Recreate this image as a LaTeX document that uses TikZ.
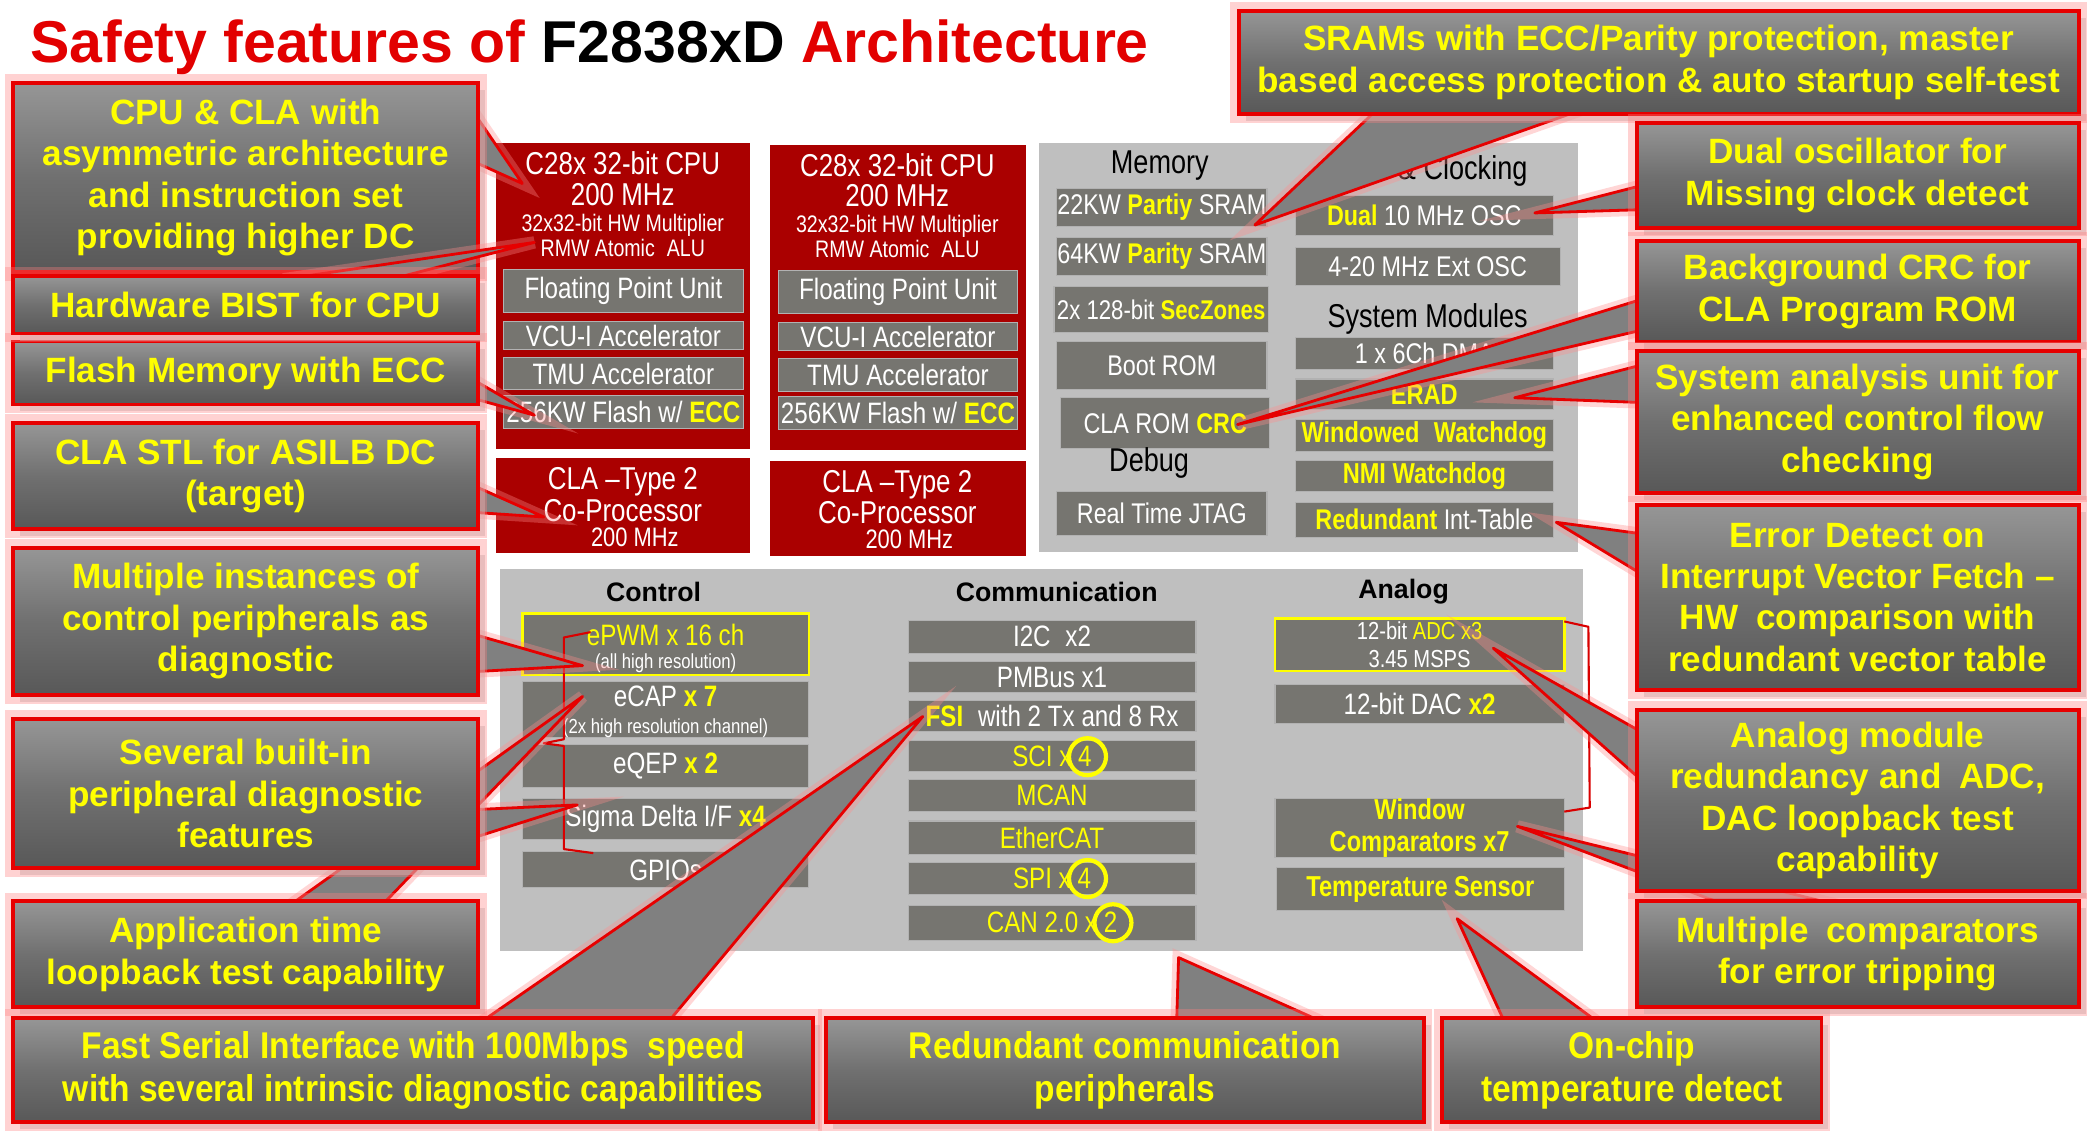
\documentclass[tikz,border=0pt]{standalone}
\usepackage{fontspec}
\setmainfont{Liberation Sans}
\newfontfamily\narrowfont[FakeStretch=0.82]{Liberation Sans}
\newfontfamily\condfont[FakeStretch=0.9]{Liberation Sans}
\usetikzlibrary{calc}

\definecolor{cpured}{RGB}{170,0,0}
\definecolor{boxgray}{RGB}{118,117,112}
\definecolor{panelgray}{RGB}{191,191,191}
\definecolor{calltop}{RGB}{150,150,150}
\definecolor{callmid}{RGB}{112,112,112}
\definecolor{callbot}{RGB}{88,88,88}
\definecolor{callred}{RGB}{230,0,0}
\definecolor{ptrgray}{RGB}{128,128,128}
\definecolor{hiyellow}{RGB}{255,255,0}
\definecolor{titlered}{RGB}{226,0,0}

\pgfdeclarelayer{chip}
\pgfdeclarelayer{ptr}
\pgfdeclarelayer{ptrtop}
\pgfdeclarelayer{boxtop}
\pgfsetlayers{chip,ptr,main,ptrtop,boxtop}

% box from its pixel corners (x1,y1) (x2,y2)
\newcommand{\boxnode}[7]{%
  \node[#1, minimum width={(#5-#3)*0.01339cm}, minimum height={(#6-#4)*0.01339cm}]
    (#2) at ({(#3+#5)/2},{(#4+#6)/2}) {#7};}
% wedge pointer: base point, base point, tip
\newcommand{\callptr}[3]{\filldraw[pointy] (#1) -- (#3) -- (#2) -- cycle;}
\newcommand{\hl}[1]{\textcolor{hiyellow}{\bfseries #1}}

\tikzset{
  redblk/.style={fill=cpured, inner sep=0pt},
  panel/.style={fill=panelgray, inner sep=0pt},
  inbox/.style={fill=boxgray, draw=black!30, line width=0.3pt, text=white, align=center,
    inner sep=0pt, font=\narrowfont\fontsize{8.4}{9}\selectfont},
  membox/.style={inbox, font=\narrowfont\fontsize{8.1}{9}\selectfont},
  hibox/.style={inbox, draw=hiyellow, line width=0.8pt},
  boldbox/.style={inbox, text=hiyellow, font=\narrowfont\bfseries\fontsize{8.2}{9.1}\selectfont},
  cputxt/.style={text=white, inner sep=0pt, font=\narrowfont\fontsize{9}{10}\selectfont},
  cpusmall/.style={cputxt, font=\narrowfont\fontsize{6.8}{8}\selectfont},
  ptxt/.style={text=white, inner sep=0pt, font=\narrowfont\fontsize{8.4}{9}\selectfont},
  psmall/.style={text=white, inner sep=0pt, font=\narrowfont\fontsize{5.8}{7}\selectfont},
  grptitle/.style={inner sep=0pt, font=\narrowfont\fontsize{9.4}{10}\selectfont},
  sectitle/.style={inner sep=0pt, font=\bfseries\fontsize{7.6}{8}\selectfont},
  bracket/.style={draw=red!85!black, line width=0.6pt, line join=round},
  ring/.style={circle, draw=hiyellow, line width=1.2pt, minimum size=0.37cm, inner sep=0pt},
  notebox/.style={draw=callred, line width=1.1pt, top color=calltop, bottom color=callbot,
    middle color=callmid, text=hiyellow, align=center, inner sep=0pt,
    font=\bfseries\fontsize{10}{11.8}\selectfont,
    preaction={fill=black!25, opacity=0.5, transform canvas={shift={(2pt,-2pt)}}},
    preaction={draw=red!50, line width=5pt, opacity=0.35}},
  bottomnote/.style={notebox, font=\condfont\bfseries\fontsize{10.6}{12.3}\selectfont},
  pointy/.style={fill=ptrgray, draw=callred, line width=0.8pt, line join=round,
    preaction={draw=red!45, line width=3.5pt, opacity=0.35}}
}

\begin{document}
\begin{tikzpicture}[x=0.01339cm, y=-0.01339cm]
\useasboundingbox (0,0) rectangle (1568,850);

\begin{pgfonlayer}{chip}
\fill[white] (0,0) rectangle (1568,850);

% title
\node[anchor=base west, inner sep=0pt, text=titlered, font=\bfseries\fontsize{16.8}{20}\selectfont]
  (title) at (22,47) {Safety features of \textcolor{black}{F2838xD} Architecture};

% CPU 1
\boxnode{redblk}{cpu1}{370}{107}{560}{335}{}
\node[cputxt] (cpu1name) at (465,122) {C28x 32-bit CPU};
\node[cputxt] (cpu1clk) at (465,145) {200 MHz};
\node[cpusmall] (cpu1mul) at (465,168) {32x32-bit HW Multiplier};
\node[cpusmall] (cpu1alu) at (465,185) {RMW Atomic\enspace ALU};
\boxnode{inbox}{fpu1}{376}{201}{555}{233}{Floating Point Unit}
\boxnode{inbox}{vcu1}{376}{240}{555}{261}{VCU-I Accelerator}
\boxnode{inbox}{tmu1}{376}{267}{555}{291}{TMU Accelerator}
\boxnode{inbox}{flash1}{376}{295}{555}{320}{256KW Flash w/ \hl{ECC}}
\boxnode{redblk}{cla1}{370}{342}{560}{413}{}
\node[cputxt] (cla1name) at (465,360) {CLA \textendash Type 2};
\node[cputxt] (cla1kind) at (465,381) {Co-Processor};
\node[cpusmall, font=\narrowfont\fontsize{7.6}{8}\selectfont] (cla1clk) at (474,401) {200 MHz};

% CPU 2
\boxnode{redblk}{cpu2}{575}{108}{766}{336}{}
\node[cputxt] (cpu2name) at (670,123) {C28x 32-bit CPU};
\node[cputxt] (cpu2clk) at (670,146) {200 MHz};
\node[cpusmall] (cpu2mul) at (670,169) {32x32-bit HW Multiplier};
\node[cpusmall] (cpu2alu) at (670,186) {RMW Atomic\enspace ALU};
\boxnode{inbox}{fpu2}{581}{202}{760}{234}{Floating Point Unit}
\boxnode{inbox}{vcu2}{581}{241}{760}{262}{VCU-I Accelerator}
\boxnode{inbox}{tmu2}{581}{268}{760}{292}{TMU Accelerator}
\boxnode{inbox}{flash2}{581}{296}{760}{321}{256KW Flash w/ \hl{ECC}}
\boxnode{redblk}{cla2}{575}{344}{766}{415}{}
\node[cputxt] (cla2name) at (670,362) {CLA \textendash Type 2};
\node[cputxt] (cla2kind) at (670,383) {Co-Processor};
\node[cpusmall, font=\narrowfont\fontsize{7.6}{8}\selectfont] (cla2clk) at (679,403) {200 MHz};

% memory, clocking, system modules
\boxnode{panel}{sysblk}{776}{107}{1178}{412}{}
\node[grptitle] (memtitle) at (866,124) {Memory};
\boxnode{membox}{sram22}{789}{141}{946}{169}{22KW \hl{Partiy} SRAM}
\boxnode{membox}{sram64}{789}{177}{946}{206}{64KW \hl{Parity} SRAM}
\boxnode{membox, font=\narrowfont\fontsize{7.7}{9}\selectfont}{seczone}{787}{214}{947}{248}{2x 128-bit \hl{SecZones}}
\boxnode{membox}{bootrom}{789}{255}{946}{291}{Boot ROM}
\boxnode{membox}{clarom}{792}{297}{948}{335}{CLA ROM \hl{CRC}}
\node[grptitle] (dbgtitle) at (858,346) {Debug};
\boxnode{membox}{jtag}{789}{367}{946}{400}{Real Time JTAG}
\node[grptitle, anchor=east] (clktitle) at (1141,128) {\& Clocking};
\boxnode{membox}{osc}{967}{146}{1160}{176}{\hl{Dual} 10 MHz OSC}
\boxnode{membox}{extosc}{967}{185}{1165}{213}{4-20 MHz Ext OSC}
\node[grptitle] (systitle) at (1066,238) {System Modules};
\boxnode{membox}{dma}{967}{252}{1160}{276}{1 x 6Ch DMA}
\boxnode{boldbox}{erad}{967}{283}{1160}{306}{ERAD}
\boxnode{boldbox}{wdog}{967}{313}{1160}{337}{Windowed\enspace Watchdog}
\boxnode{boldbox}{nmi}{967}{344}{1160}{367}{NMI Watchdog}
\boxnode{membox}{inttab}{967}{375}{1160}{401}{\hl{Redundant} Int-Table}

% peripherals
\boxnode{panel}{periph}{373}{425}{1182}{710}{}
\node[sectitle] (ctrltitle) at (488,442) {Control};
\boxnode{hibox}{pwm}{390}{458}{604}{504}{}
\node[ptxt, text=hiyellow] (pwmtxt) at (497,474) {ePWM x 16 ch};
\node[psmall] (pwmnote) at (497,495) {(all high resolution)};
\boxnode{inbox}{ecap}{390}{509}{604}{551}{}
\node[ptxt] (ecaptxt) at (497,520) {eCAP \hl{x 7}};
\node[psmall] (ecapnote) at (497,544) {(2x high resolution channel)};
\boxnode{inbox}{eqep}{390}{556}{604}{588}{eQEP \hl{x 2}}
\boxnode{inbox}{sdfm}{390}{596}{604}{627}{Sigma Delta I/F \hl{x4}}
\boxnode{inbox}{gpio}{390}{636}{604}{663}{GPIOs}
\draw[bracket] (441,472) -- (421,476) -- (421,552) -- (406,555) -- (421,557) -- (421,634) -- (443,637);

\node[sectitle] (commtitle) at (789,442) {Communication};
\boxnode{inbox}{i2c}{678}{463}{893}{488}{I2C\enspace x2}
\boxnode{inbox}{pmbus}{678}{494}{893}{517}{PMBus x1}
\boxnode{inbox}{fsi}{678}{523}{893}{546}{\hl{FSI}\enspace with 2 Tx and 8 Rx}
\boxnode{inbox, text=hiyellow}{sci}{678}{553}{893}{576}{SCI x 4}
\boxnode{inbox, text=hiyellow}{mcan}{678}{582}{893}{606}{MCAN}
\boxnode{inbox, text=hiyellow}{ecat}{678}{613}{893}{638}{EtherCAT}
\boxnode{inbox, text=hiyellow}{spi}{678}{644}{893}{668}{SPI x 4}
\boxnode{inbox, text=hiyellow}{can}{678}{676}{893}{702}{CAN 2.0 x 2}
\node[ring] (sciring) at (812,565) {};
\node[ring] (spiring) at (812,656) {};
\node[ring] (canring) at (831,689) {};

\node[sectitle] (anatitle) at (1048,442) {Analog};
\boxnode{hibox, font=\narrowfont\fontsize{7}{8}\selectfont}{adc}{952}{462}{1168}{501}{12-bit \textcolor{hiyellow}{ADC x3}\\3.45 MSPS}
\boxnode{inbox}{dac}{952}{511}{1168}{540}{12-bit DAC \hl{x2}}
\boxnode{boldbox}{wincmp}{952}{597}{1168}{640}{Window\\Comparators x7}
\boxnode{boldbox}{tsens}{953}{648}{1168}{680}{Temperature Sensor}
\draw[bracket] (1168,464) -- (1186,468) -- (1187,603) -- (1168,606);

% pointer targets
\coordinate (tCpu) at (390,137);
\coordinate (tAlu) at (399,181);
\coordinate (tFlash) at (399,310);
\coordinate (tCla) at (406,386);
\coordinate (tPwm) at (435,497);
\coordinate (tCap) at (435,520);
\coordinate (tSdf) at (431,601);
\coordinate (tFsi) at (689,535);
\coordinate (tComm) at (880,715);
\coordinate (tTemp) at (1088,686);
\coordinate (tSram) at (937,168);
\coordinate (tOsc) at (1146,159);
\coordinate (tCrc) at (924,317);
\coordinate (tErad) at (1131,297);
\coordinate (tInt) at (1162,390);
\coordinate (tAdc) at (1115,484);
\coordinate (tWin) at (1133,617);
\end{pgfonlayer}

% left callouts
\boxnode{notebox}{L1}{10}{62}{357}{203}{CPU \& CLA with\\asymmetric architecture\\and instruction set\\providing higher DC}
\boxnode{notebox}{L3}{10}{255}{357}{302}{Flash Memory with ECC}
\boxnode{notebox}{L4}{10}{316}{357}{395}{CLA STL for ASILB DC\\(target)}
\boxnode{notebox}{L5}{10}{409}{357}{519}{Multiple instances of\\control peripherals as\\diagnostic}
\boxnode{notebox}{L6}{10}{537}{357}{648}{Several built-in\\peripheral diagnostic\\features}
\boxnode{notebox}{L7}{10}{673}{357}{752}{Application time\\loopback test capability}

% bottom callouts
\boxnode{bottomnote}{L8}{10}{760}{607}{838}{Fast Serial Interface with 100Mbps\enspace speed\\with several intrinsic diagnostic capabilities}
\boxnode{bottomnote}{B2}{617}{760}{1063}{838}{Redundant communication\\peripherals}
\boxnode{bottomnote}{B3}{1077}{760}{1360}{838}{On-chip\\temperature detect}

% right callouts
\boxnode{notebox}{R1}{925}{8}{1552}{85}{SRAMs with ECC/Parity protection, master\\based access protection \& auto startup self-test}
\boxnode{notebox}{R2}{1222}{92}{1552}{170}{Dual oscillator for\\Missing clock detect}
\boxnode{notebox}{R3}{1222}{180}{1552}{255}{Background CRC for\\CLA Program ROM}
\boxnode{notebox}{R4}{1222}{262}{1552}{368}{System analysis unit for\\enhanced control flow\\checking}
\boxnode{notebox}{R5}{1222}{377}{1552}{515}{Error Detect on\\Interrupt Vector Fetch \textendash\\HW\enspace comparison with\\redundant vector table}
\boxnode{notebox}{R6}{1222}{530}{1552}{665}{Analog module\\redundancy and\enspace ADC,\\DAC loopback test\\capability}
\boxnode{notebox}{R7}{1222}{673}{1552}{752}{Multiple\enspace comparators\\for error tripping}

% pointers, behind the callouts
\begin{pgfonlayer}{ptr}
\callptr{$(L1.north east)+(-5,23)$}{$(L1.north east)+(-5,60)$}{tCpu}
\callptr{$(L3.north east)+(-5,30)$}{$(L3.north east)+(-5,44)$}{tFlash}
\callptr{$(L4.north east)+(-5,48)$}{$(L4.north east)+(-5,68)$}{tCla}
\callptr{$(L5.north east)+(-5,66)$}{$(L5.north east)+(-5,94)$}{tPwm}
\callptr{$(L6.north east)+(-5,69)$}{$(L6.north east)+(-5,90)$}{tSdf}
\callptr{$(L7.north west)+(207,5)$}{$(L7.north west)+(276,5)$}{tCap}
\callptr{$(L8.north west)+(350,5)$}{$(L8.north west)+(490,5)$}{tFsi}
\callptr{$(B2.north west)+(263,5)$}{$(B2.north west)+(373,5)$}{tComm}
\callptr{$(B3.north west)+(48,5)$}{$(B3.north west)+(118,5)$}{tTemp}
\callptr{$(R1.south west)+(105,-5)$}{$(R1.south west)+(259,-5)$}{tSram}
\callptr{$(R2.north west)+(5,48)$}{$(R2.north west)+(5,66)$}{tOsc}
\callptr{$(R3.north west)+(5,45)$}{$(R3.north west)+(5,68)$}{tCrc}
\callptr{$(R4.north west)+(5,12)$}{$(R4.north west)+(5,40)$}{tErad}
\callptr{$(R5.north west)+(5,23)$}{$(R5.north west)+(5,53)$}{tInt}
\callptr{$(R6.north west)+(5,18)$}{$(R6.north west)+(5,54)$}{tAdc}
\callptr{$(R7.north west)+(70,5)$}{$(R7.north west)+(155,5)$}{tWin}
\end{pgfonlayer}

% BIST callout sits over the CPU & CLA one
\begin{pgfonlayer}{boxtop}
\boxnode{notebox}{L2}{10}{206}{357}{249}{Hardware BIST for CPU}
\end{pgfonlayer}
\begin{pgfonlayer}{ptrtop}
\callptr{$(L2.north west)+(203,4)$}{$(L2.north west)+(283,4)$}{tAlu}
\end{pgfonlayer}
\end{tikzpicture}
\end{document}
